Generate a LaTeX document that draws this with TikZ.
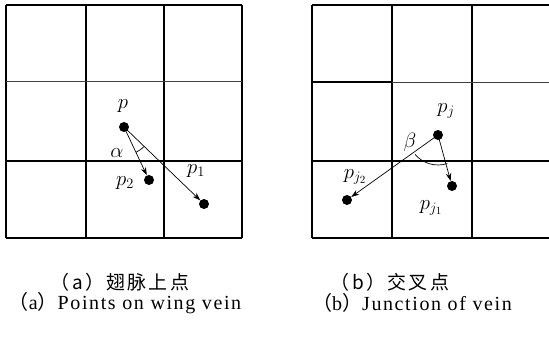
\documentclass[tikz,border=0pt]{standalone}
\usepackage{fontspec}
\setmainfont{Liberation Serif}
\newfontfamily\cjk[LetterSpace=12]{Noto Sans CJK SC}
\newfontfamily\capfont[LetterSpace=8]{Liberation Serif}
\usetikzlibrary{arrows.meta}

\begin{document}
\begin{tikzpicture}[
  x=1pt, y=1pt,
  gridline/.style={line width=1.2pt},
  thinline/.style={line width=0.9pt, black!75},
  dot/.style={circle, fill=black, inner sep=0pt, minimum size=10pt},
  vec/.style={-{Stealth[length=8pt,width=5.5pt]}, line width=0.7pt},
  lab/.style={font=\fontsize{22}{22}\selectfont, inner sep=1pt},
  cncap/.style={font=\fontsize{19}{19}\selectfont\cjk},
  encap/.style={font=\fontsize{20}{20}\selectfont\capfont}
]
\useasboundingbox (0,0) rectangle (549,339);

% (a) grid
\foreach \x in {6,86,164,242}
  \draw[gridline] (\x,101) -- (\x,334);
\foreach \y in {334,178,101}
  \draw[gridline] (6,\y) -- (242,\y);
\draw[thinline] (6,258) -- (242,258);

% (a) points
\node[dot] (p) at (124,212) {};
\node[dot] (p1) at (204,135) {};
\node[dot] (p2) at (149,159) {};
\draw[vec] (p.center) -- (p1);
\draw[vec] (p.center) -- (p2);
\draw[line width=0.7pt] (p.center) ++(-64.7:28) arc[start angle=-64.7, end angle=-43.9, radius=28];
\node[lab] (lp) at (123,233) {$p$};
\node[lab] (lp1) at (196,168) {$p_1$};
\node[lab] (lp2) at (125,156) {$p_2$};
\node[lab] (alpha) at (117,186) {$\alpha$};

% (b) grid
\foreach \x in {312,392,472}
  \draw[gridline] (\x,101) -- (\x,334);
\foreach \y in {334,178,101}
  \draw[gridline] (312,\y) -- (549,\y);
\draw[thinline] (312,257) -- (549,257);
\draw[gridline] (312,257) -- (392,257);

% (b) points
\node[dot] (pj) at (438,204) {};
\node[dot] (pj1) at (452,153) {};
\node[dot] (pj2) at (347,139) {};
\draw[vec] (pj.center) -- (pj1);
\draw[vec] (pj.center) -- (pj2);
\draw[line width=0.7pt] (pj.center) ++(-140:30) arc[start angle=-140, end angle=-72, radius=30];
\node[lab] (lpj) at (446,228) {$p_j$};
\node[lab] (lpj1) at (431,131) {$p_{j_1}$};
\node[lab] (lpj2) at (355,162) {$p_{j_2}$};
\node[lab] (beta) at (410,197) {$\beta$};

% captions
\node[cncap] (capa) at (120,57) {（a）翅脉上点};
\node[encap] (enca) at (125,36) {{\cjk（}a{\cjk）}Points on wing vein};
\node[cncap] (capb) at (390,57) {（b）交叉点};
\node[encap] (encb) at (412,36) {{\cjk（}b{\cjk）}Junction of vein};
\end{tikzpicture}
\end{document}
